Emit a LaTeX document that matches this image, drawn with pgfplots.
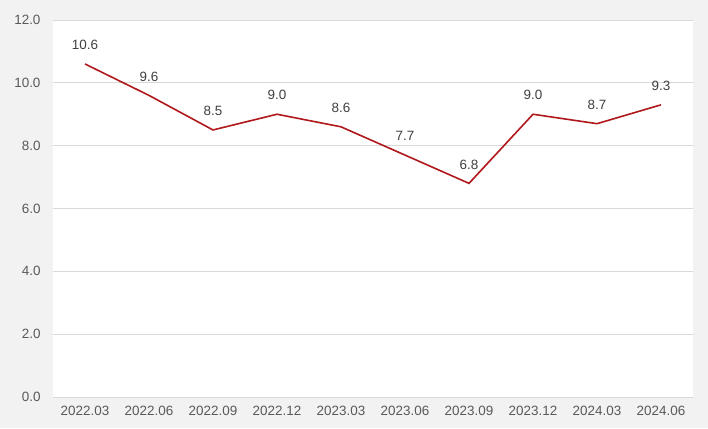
\documentclass[border=0pt]{standalone}
\usepackage{pgfplots}
\pgfplotsset{compat=1.18}
\usepackage{fontspec}
\setmainfont{Liberation Sans}
\definecolor{bg}{HTML}{F2F2F2}
\definecolor{gridc}{HTML}{D9D9D9}
\definecolor{txt}{HTML}{595959}
\definecolor{linec}{HTML}{B0181C}
\begin{document}
\begin{tikzpicture}[x=1bp,y=1bp]
\fill[bg] (0,0) rectangle (708,428);
\begin{axis}[
  at={(53bp,31bp)}, anchor=south west,
  scale only axis, width=640bp, height=377bp,
  xmin=-0.5, xmax=9.5, ymin=0, ymax=12,
  axis background/.style={fill=white},
  axis line style={draw=none},
  ymajorgrids, grid style={gridc, line width=0.8bp},
  ytick={0,2,...,12},
  xtick={0,...,9},
  xticklabels={2022.03,2022.06,2022.09,2022.12,2023.03,2023.06,2023.09,2023.12,2024.03,2024.06},
  major tick length=0pt,
  /pgf/number format/assume math mode=true,
  yticklabel style={/pgf/number format/fixed, /pgf/number format/fixed zerofill, /pgf/number format/precision=1, font=\fontsize{13.5}{15}\selectfont, text=txt, xshift=-9bp},
  xticklabel style={font=\fontsize{13.5}{15}\selectfont, text=txt, yshift=-6bp},
  clip=false,
]
\addplot[linec, line width=1.6bp, mark=none,
  nodes near coords, point meta=explicit symbolic,
  every node near coord/.style={font=\fontsize{13.5}{15}\selectfont, text=black!75, anchor=south, yshift=10bp}]
  coordinates {
  (0,10.6) [10.6]
  (1,9.6) [9.6]
  (2,8.5) [8.5]
  (3,9.0) [9.0]
  (4,8.6) [8.6]
  (5,7.7) [7.7]
  (6,6.8) [6.8]
  (7,9.0) [9.0]
  (8,8.7) [8.7]
  (9,9.3) [9.3]
  };
\end{axis}
\end{tikzpicture}
\end{document}
